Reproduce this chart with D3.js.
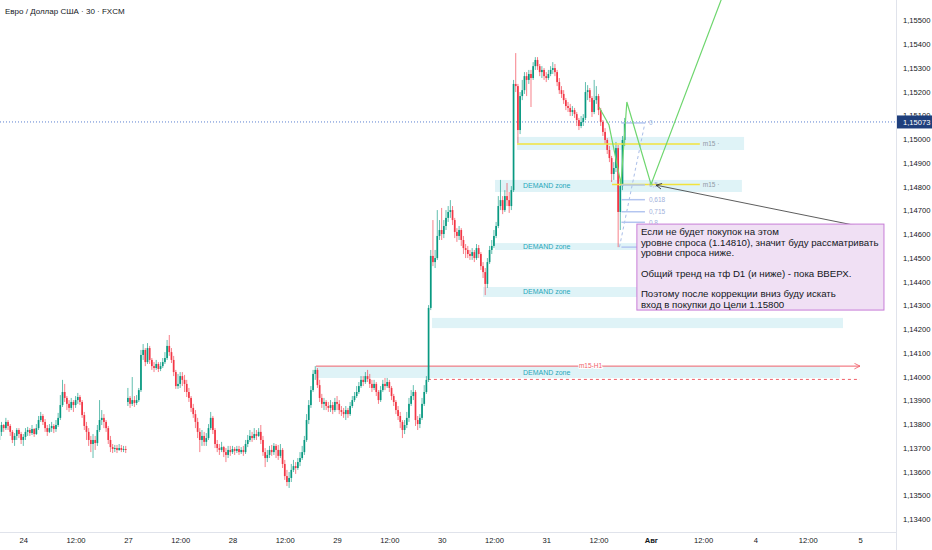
<!DOCTYPE html>
<html>
<head>
<meta charset="utf-8">
<script src="https://cdn.jsdelivr.net/npm/d3@7"></script>
<style>
    body { margin: 0; background: #fff; }
    svg { display: block; font-family: "Liberation Sans", Arial, sans-serif; }
</style>
</head>
<body>
<svg id="chart" width="932" height="550"></svg>
<script>
'use strict';

// EUR/USD 30 min candles, oldest first (bar 0 = left edge of the chart)
const opens = [
    1.13734,1.13768,1.13797,1.13784,1.13810,1.13793,1.13768,1.13734,1.13751,1.13776,
    1.13759,1.13734,1.13747,1.13768,1.13776,1.13763,1.13780,1.13759,1.13784,1.13818,
    1.13835,1.13810,1.13784,1.13768,1.13784,1.13793,1.13780,1.13797,1.13827,1.13881,
    1.13936,1.13911,1.13886,1.13869,1.13894,1.13881,1.13902,1.13915,1.13894,1.13839,
    1.13793,1.13768,1.13734,1.13717,1.13734,1.13721,1.13776,1.13818,1.13827,1.13810,
    1.13784,1.13734,1.13704,1.13696,1.13700,1.13692,1.13700,1.13692,1.13696,
    1.13894,1.13911,1.13886,1.13902,1.13890,1.13902,1.13944,1.14092,1.14113,1.14062,
    1.14121,1.14071,1.14045,1.14037,1.14054,1.14033,1.14045,1.14062,1.14079,1.14130,
    1.14104,1.14071,1.14020,1.13961,1.13970,1.14003,1.13987,1.13970,1.13936,1.13911,
    1.13869,1.13843,1.13810,1.13768,1.13734,1.13751,1.13726,1.13742,1.13784,1.13827,
    1.13776,1.13717,1.13700,1.13692,1.13704,1.13683,1.13671,1.13692,1.13683,1.13696,
    1.13688,1.13696,1.13683,
    1.13692,1.13683,1.13717,1.13734,1.13751,1.13742,1.13759,1.13751,1.13768,1.13734,
    1.13683,1.13658,1.13671,1.13692,1.13683,1.13709,1.13692,1.13667,1.13692,1.13633,
    1.13582,1.13557,1.13574,1.13608,1.13624,1.13616,1.13641,1.13658,1.13683,1.13734,
    1.13818,1.13881,1.13944,1.14012,1.14029,1.13965,1.13911,1.13886,1.13894,1.13877,
    1.13869,1.13881,1.13860,1.13894,1.13886,1.13860,1.13852,1.13843,1.13860,
    1.13843,1.13877,1.13902,1.13919,1.13936,1.13961,1.13987,1.13978,1.14003,1.13991,
    1.13970,1.13953,1.13970,1.13936,1.13902,1.13944,1.13970,1.13961,1.13978,1.13953,
    1.13919,1.13894,1.13860,1.13835,1.13810,1.13776,1.13797,1.13827,1.13886,1.13919,
    1.13936,1.13818,1.13801,1.13827,1.13886,1.13936,1.13987,1.14290,1.14509,1.14483,
    1.14500,1.14593,1.14618,1.14601,1.14635,
    1.14669,1.14694,1.14702,1.14660,1.14610,1.14593,1.14618,1.14576,1.14542,1.14534,
    1.14517,1.14509,1.14525,1.14500,1.14542,1.14517,1.14466,1.14441,1.14391,1.14483,
    1.14534,1.14551,1.14593,1.14635,1.14719,1.14744,1.14702,1.14761,1.14744,1.14719,
    1.14786,1.15233,1.15224,1.15039,1.15182,1.15207,1.15266,1.15250,1.15275,1.15258,
    1.15308,1.15334,1.15308,1.15283,1.15292,1.15266,
    1.15258,1.15275,1.15292,1.15300,1.15283,1.15241,1.15207,1.15191,1.15165,1.15140,
    1.15132,1.15115,1.15123,1.15106,1.15081,1.15056,1.15073,1.15090,1.15199,1.15207,
    1.15174,1.15115,1.15165,1.15182,1.15123,1.15073,1.15031,1.14997,1.14955,1.14921,
    1.14854,1.14879,1.14963,1.14694,1.14803,1.14997
];
const highs = [
    1.13784,1.13810,1.13801,1.13827,1.13818,1.13801,1.13776,1.13763,1.13784,1.13784,
    1.13768,1.13759,1.13784,1.13789,1.13784,1.13797,1.13784,1.13801,1.13835,1.13852,
    1.13843,1.13822,1.13797,1.13801,1.13810,1.13801,1.13818,1.13848,1.13923,1.13987,
    1.13970,1.13919,1.13902,1.13911,1.13902,1.13919,1.13932,1.13923,1.13902,1.13852,
    1.13810,1.13784,1.13751,1.13759,1.13751,1.13797,1.13902,1.13860,1.13843,1.13818,
    1.13793,1.13751,1.13717,1.13713,1.13713,1.13717,1.13713,1.13709,1.13709,
    1.13953,1.13919,1.13999,1.13919,1.13923,1.13953,1.14113,1.14138,1.14121,1.14142,
    1.14130,1.14079,1.14062,1.14071,1.14062,1.14062,1.14079,1.14104,1.14155,1.14176,
    1.14121,1.14088,1.14029,1.14012,1.14020,1.14020,1.14008,1.13987,1.13953,1.13919,
    1.13886,1.13860,1.13827,1.13784,1.13776,1.13768,1.13763,1.13801,1.13852,1.13835,
    1.13784,1.13734,1.13717,1.13726,1.13709,1.13700,1.13709,1.13709,1.13709,1.13704,
    1.13709,1.13709,1.13704,
    1.13709,1.13734,1.13755,1.13776,1.13768,1.13784,1.13776,1.13784,1.13797,1.13751,
    1.13700,1.13692,1.13709,1.13713,1.13721,1.13717,1.13713,1.13717,1.13700,1.13650,
    1.13608,1.13599,1.13633,1.13650,1.13641,1.13658,1.13683,1.13709,1.13751,1.13843,
    1.13902,1.13961,1.14029,1.14045,1.14037,1.13987,1.13928,1.13911,1.13902,1.13894,
    1.13902,1.13894,1.13911,1.13919,1.13902,1.13877,1.13869,1.13877,1.13869,
    1.13894,1.13919,1.13936,1.13961,1.13978,1.14003,1.14003,1.14020,1.14029,1.14012,
    1.13987,1.13987,1.13978,1.13944,1.13961,1.13987,1.13995,1.13995,1.13987,1.13961,
    1.13928,1.13902,1.13877,1.13852,1.13818,1.13818,1.13852,1.13911,1.13944,1.13965,
    1.13944,1.13835,1.13843,1.13911,1.13965,1.14003,1.14302,1.14534,1.14660,1.14534,
    1.14702,1.14660,1.14711,1.14660,1.14702,
    1.14719,1.14744,1.14719,1.14669,1.14626,1.14635,1.14626,1.14593,1.14559,1.14551,
    1.14534,1.14542,1.14534,1.14559,1.14555,1.14525,1.14483,1.14458,1.14500,1.14551,
    1.14576,1.14618,1.14652,1.14761,1.14829,1.14761,1.14786,1.14816,1.14778,1.14803,
    1.15250,1.15363,1.15233,1.15199,1.15250,1.15283,1.15283,1.15292,1.15292,1.15325,
    1.15346,1.15346,1.15317,1.15308,1.15300,1.15283,
    1.15292,1.15308,1.15325,1.15317,1.15292,1.15258,1.15224,1.15207,1.15174,1.15157,
    1.15149,1.15140,1.15132,1.15115,1.15090,1.15098,1.15106,1.15241,1.15228,1.15216,
    1.15182,1.15250,1.15224,1.15191,1.15132,1.15081,1.15047,1.15005,1.14972,1.14930,
    1.14904,1.14989,1.14976,1.14829,1.15014,1.15090
];
const lows = [
    1.13713,1.13751,1.13768,1.13776,1.13776,1.13751,1.13721,1.13709,1.13734,1.13742,
    1.13717,1.13709,1.13734,1.13751,1.13751,1.13755,1.13747,1.13755,1.13776,1.13810,
    1.13797,1.13768,1.13751,1.13763,1.13768,1.13763,1.13768,1.13789,1.13818,1.13873,
    1.13894,1.13860,1.13852,1.13860,1.13852,1.13869,1.13886,1.13881,1.13827,1.13776,
    1.13734,1.13709,1.13683,1.13658,1.13692,1.13709,1.13768,1.13797,1.13784,1.13768,
    1.13717,1.13683,1.13679,1.13683,1.13679,1.13688,1.13683,1.13683,1.13679,
    1.13877,1.13869,1.13877,1.13873,1.13881,1.13894,1.13936,1.14071,1.14045,1.14054,
    1.14054,1.14029,1.14020,1.14029,1.14020,1.14024,1.14037,1.14054,1.14071,1.14088,
    1.14058,1.14003,1.13949,1.13949,1.13953,1.13961,1.13936,1.13915,1.13894,1.13852,
    1.13827,1.13784,1.13742,1.13683,1.13709,1.13709,1.13709,1.13734,1.13776,1.13759,
    1.13700,1.13683,1.13671,1.13683,1.13662,1.13641,1.13658,1.13667,1.13675,1.13671,
    1.13679,1.13671,1.13675,
    1.13667,1.13675,1.13704,1.13726,1.13726,1.13734,1.13734,1.13747,1.13717,1.13667,
    1.13620,1.13641,1.13658,1.13667,1.13671,1.13658,1.13650,1.13658,1.13616,1.13566,
    1.13540,1.13532,1.13557,1.13599,1.13591,1.13608,1.13624,1.13650,1.13671,1.13726,
    1.13801,1.13869,1.13936,1.13987,1.13953,1.13894,1.13869,1.13860,1.13860,1.13852,
    1.13852,1.13843,1.13852,1.13860,1.13843,1.13835,1.13827,1.13818,1.13827,
    1.13835,1.13869,1.13894,1.13911,1.13928,1.13953,1.13961,1.13970,1.13978,1.13953,
    1.13936,1.13944,1.13919,1.13886,1.13894,1.13936,1.13944,1.13953,1.13936,1.13902,
    1.13877,1.13843,1.13818,1.13784,1.13742,1.13759,1.13784,1.13810,1.13877,1.13902,
    1.13793,1.13776,1.13784,1.13818,1.13877,1.13928,1.13978,1.14281,1.14466,1.14458,
    1.14492,1.14576,1.14576,1.14584,1.14618,
    1.14652,1.14669,1.14639,1.14584,1.14568,1.14576,1.14551,1.14517,1.14500,1.14500,
    1.14492,1.14492,1.14483,1.14492,1.14500,1.14450,1.14416,1.14344,1.14374,1.14475,
    1.14517,1.14542,1.14584,1.14626,1.14702,1.14685,1.14694,1.14719,1.14690,1.14702,
    1.14778,1.15199,1.14984,1.15022,1.15165,1.15191,1.15182,1.15233,1.15136,1.15250,
    1.15292,1.15292,1.15266,1.15258,1.15250,1.15241,
    1.15250,1.15266,1.15275,1.15266,1.15224,1.15191,1.15174,1.15149,1.15123,1.15115,
    1.15098,1.15098,1.15090,1.15056,1.15039,1.15047,1.15056,1.15081,1.15165,1.15157,
    1.15094,1.15106,1.15149,1.15102,1.15056,1.15014,1.14980,1.14938,1.14904,1.14820,
    1.14829,1.14862,1.14546,1.14618,1.14786,1.14972
];
const closes = [
    1.13768,1.13797,1.13784,1.13810,1.13793,1.13768,1.13734,1.13751,1.13776,1.13759,
    1.13734,1.13747,1.13768,1.13776,1.13763,1.13780,1.13759,1.13784,1.13818,1.13835,
    1.13810,1.13784,1.13768,1.13784,1.13793,1.13780,1.13797,1.13827,1.13881,1.13936,
    1.13911,1.13886,1.13869,1.13894,1.13881,1.13902,1.13915,1.13894,1.13839,1.13793,
    1.13768,1.13734,1.13717,1.13734,1.13721,1.13776,1.13818,1.13827,1.13810,1.13784,
    1.13734,1.13704,1.13696,1.13700,1.13692,1.13700,1.13692,1.13696,1.13692,
    1.13911,1.13886,1.13902,1.13890,1.13902,1.13944,1.14092,1.14113,1.14062,1.14121,
    1.14071,1.14045,1.14037,1.14054,1.14033,1.14045,1.14062,1.14079,1.14130,1.14104,
    1.14071,1.14020,1.13961,1.13970,1.14003,1.13987,1.13970,1.13936,1.13911,1.13869,
    1.13843,1.13810,1.13768,1.13734,1.13751,1.13726,1.13742,1.13784,1.13827,1.13776,
    1.13717,1.13700,1.13692,1.13704,1.13683,1.13671,1.13692,1.13683,1.13696,1.13688,
    1.13696,1.13683,1.13692,
    1.13683,1.13717,1.13734,1.13751,1.13742,1.13759,1.13751,1.13768,1.13734,1.13683,
    1.13658,1.13671,1.13692,1.13683,1.13709,1.13692,1.13667,1.13692,1.13633,1.13582,
    1.13557,1.13574,1.13608,1.13624,1.13616,1.13641,1.13658,1.13683,1.13734,1.13818,
    1.13881,1.13944,1.14012,1.14029,1.13965,1.13911,1.13886,1.13894,1.13877,1.13869,
    1.13881,1.13860,1.13894,1.13886,1.13860,1.13852,1.13843,1.13860,1.13843,
    1.13877,1.13902,1.13919,1.13936,1.13961,1.13987,1.13978,1.14003,1.13991,1.13970,
    1.13953,1.13970,1.13936,1.13902,1.13944,1.13970,1.13961,1.13978,1.13953,1.13919,
    1.13894,1.13860,1.13835,1.13810,1.13776,1.13797,1.13827,1.13886,1.13919,1.13936,
    1.13818,1.13801,1.13827,1.13886,1.13936,1.13987,1.14290,1.14509,1.14483,1.14500,
    1.14593,1.14618,1.14601,1.14635,1.14669,
    1.14694,1.14702,1.14660,1.14610,1.14593,1.14618,1.14576,1.14542,1.14534,1.14517,
    1.14509,1.14525,1.14500,1.14542,1.14517,1.14466,1.14441,1.14391,1.14483,1.14534,
    1.14551,1.14593,1.14635,1.14719,1.14744,1.14702,1.14761,1.14744,1.14719,1.14786,
    1.15233,1.15224,1.15039,1.15182,1.15207,1.15266,1.15250,1.15275,1.15258,1.15308,
    1.15334,1.15308,1.15283,1.15292,1.15266,1.15258,
    1.15275,1.15292,1.15300,1.15283,1.15241,1.15207,1.15191,1.15165,1.15140,1.15132,
    1.15115,1.15123,1.15106,1.15081,1.15056,1.15073,1.15090,1.15199,1.15207,1.15174,
    1.15115,1.15165,1.15182,1.15123,1.15073,1.15031,1.14997,1.14955,1.14921,1.14854,
    1.14879,1.14963,1.14694,1.14803,1.14997,1.15073
];

// time axis: bar index of each label, and the label
const timeTickBars = [11, 35, 59, 83, 107, 131, 155, 179, 203, 227, 251, 275, 299, 323, 347, 371, 395];
const timeTickLabels = ['24', '12:00', '27', '12:00', '28', '12:00', '29', '12:00', '30', '12:00', '31', '12:00', 'Авг', '12:00', '4', '12:00', '5'];
const priceTicks = [1.134, 1.135, 1.136, 1.137, 1.138, 1.139, 1.140, 1.141, 1.142, 1.143, 1.144,
                    1.145, 1.146, 1.147, 1.148, 1.149, 1.150, 1.151, 1.152, 1.153, 1.154, 1.155];
const lastPrice = 1.15073;

// drawn zones: [from bar, to bar, top price, bottom price, label]
const zones = [
    [237.6, 341.8, 1.15010, 1.14955, ''],
    [227.5, 340.8, 1.14829, 1.14778, 'DEMAND zone'],
    [227.5, 339.9, 1.14563, 1.14534, 'DEMAND zone'],
    [222.0, 294.0, 1.14378, 1.14336, 'DEMAND zone'],
    [198.6, 387.2, 1.14248, 1.14205, ''],
    [145.3, 385.8, 1.14045, 1.13995, 'DEMAND zone']
];
// yellow m15 levels: [from bar, to bar, price]
const m15Levels = [
    [237.6, 321.5, 1.14980],
    [281.2, 321.5, 1.14810]
];
// red m15-H1 level and the dashed one under it
const h1Level = [145.3, 395, 1.14045];
const h1Dashed = [196.7, 395, 1.13989];

// fibonacci retracement on the last leg
const fibHigh = 1.15069;
const fibLow = 1.14546;
const fibBars = [285.5, 296.3];
const fibLevels = [0, 0.5, 0.618, 0.715, 0.8, 1];
const fibTrend = [[284.6, 1.14546], [296.3, 1.15069]];

// projected path (green)
const projBars = [275.2, 279.8, 285.3, 288.0, 299.1, 340.1];
const projPrices = [1.15136, 1.15060, 1.14812, 1.15157, 1.14810, 1.15800];

// note and its arrow
const noteBox = [292.6, 406.0, 1.14643, 1.14281];
const noteArrow = [[394.1, 1.14635], [301.4, 1.14807]];
const noteLines = [
    'Если не будет покупок на этом',
    'уровне спроса (1.14810), значит буду рассматривать',
    'уровни спроса ниже.',
    '',
    'Общий тренд на тф D1 (и ниже) - пока ВВЕРХ.',
    '',
    'Поэтому после коррекции вниз буду искать',
    'вход в покупки до Цели 1.15800'
];


// layout
const plotW = 896, plotH = 532;
const svg = d3.select('#chart');

const x = d3.scaleLinear().domain([0, 395]).range([-0.67, 860]);
const y = d3.scaleLinear().domain([1.134, 1.155]).range([519.3, 20.55]);

const fmt = d => d.toFixed(5).replace('.', ',');

svg.append('rect').attr('width', 932).attr('height', 550).attr('fill', '#fff');

const defs = svg.append('defs');
defs.append('clipPath').attr('id', 'plot')
    .append('rect').attr('width', plotW).attr('height', plotH);

// arrow heads
function arrowMarker(id, color){
    defs.append('marker')
        .attr('id', id)
        .attr('viewBox', '0 0 10 10')
        .attr('refX', 9).attr('refY', 5)
        .attr('markerWidth', 7).attr('markerHeight', 7)
        .attr('markerUnits', 'userSpaceOnUse')
        .attr('orient', 'auto')
        .append('path')
        .attr('d', 'M1,1 L9,5 L1,9')
        .attr('fill', 'none')
        .attr('stroke', color)
        .attr('stroke-width', 1.2);
}
arrowMarker('redArrow', '#f0606a');
arrowMarker('darkArrow', '#333');

const g = svg.append('g').attr('clip-path', 'url(#plot)');

// zones behind everything
g.selectAll('rect.zone')
    .data(zones)
    .enter()
    .append('rect')
    .attr('class', 'zone')
    .attr('x', d => x(d[0]))
    .attr('width', d => x(d[1]) - x(d[0]))
    .attr('y', d => y(d[2]))
    .attr('height', d => y(d[3]) - y(d[2]))
    .attr('fill', '#dff3f7');

g.selectAll('text.zone')
    .data(zones.filter(d => d[4]))
    .enter()
    .append('text')
    .attr('class', 'zone')
    .attr('x', x(240.3))
    .attr('y', d => (y(d[2]) + y(d[3])) / 2)
    .attr('dy', '0.35em')
    .attr('font-size', 7)
    .attr('fill', '#27a7b9')
    .text(d => d[4]);

// red level
g.append('line')
    .attr('x1', x(h1Level[0])).attr('x2', x(h1Level[1]))
    .attr('y1', y(h1Level[2])).attr('y2', y(h1Level[2]))
    .attr('stroke', '#f0606a').attr('stroke-width', 1)
    .attr('marker-end', 'url(#redArrow)');
g.append('line')
    .attr('x1', x(h1Dashed[0])).attr('x2', x(h1Dashed[1]))
    .attr('y1', y(h1Dashed[2])).attr('y2', y(h1Dashed[2]))
    .attr('stroke', '#f0606a').attr('stroke-width', 1)
    .attr('stroke-dasharray', '3,3');
g.append('text')
    .attr('x', x(266)).attr('y', y(h1Level[2]))
    .attr('dy', '0.35em')
    .attr('font-size', 6.5)
    .attr('fill', '#f0606a')
    .attr('paint-order', 'stroke')
    .attr('stroke', '#fff').attr('stroke-width', 2)
    .text('m15-H1');

// current price line
g.append('line')
    .attr('x1', 0).attr('x2', plotW)
    .attr('y1', y(lastPrice)).attr('y2', y(lastPrice))
    .attr('stroke', '#5b7fd0').attr('stroke-width', 1)
    .attr('stroke-dasharray', '1,2');

// candles
const candles = closes.map((c, i) => ({ i, o: opens[i], h: highs[i], l: lows[i], c }));
const up = '#089981', down = '#f23645';

const cg = g.append('g');
cg.selectAll('line.wick')
    .data(candles)
    .enter()
    .append('line')
    .attr('class', 'wick')
    .attr('x1', d => x(d.i)).attr('x2', d => x(d.i))
    .attr('y1', d => y(Math.max(d.h, d.o, d.c)))
    .attr('y2', d => y(Math.min(d.l, d.o, d.c)))
    .attr('stroke', d => d.c >= d.o ? up : down)
    .attr('stroke-opacity', 0.7)
    .attr('stroke-width', 0.9);
cg.selectAll('rect.body')
    .data(candles)
    .enter()
    .append('rect')
    .attr('class', 'body')
    .attr('x', d => x(d.i) - 0.85)
    .attr('width', 1.7)
    .attr('y', d => y(Math.max(d.o, d.c)))
    .attr('height', d => Math.max(0.9, Math.abs(y(d.o) - y(d.c))))
    .attr('fill', d => d.c >= d.o ? up : down);

// yellow m15 levels
g.selectAll('line.m15')
    .data(m15Levels)
    .enter()
    .append('line')
    .attr('class', 'm15')
    .attr('x1', d => x(d[0])).attr('x2', d => x(d[1]))
    .attr('y1', d => y(d[2])).attr('y2', d => y(d[2]))
    .attr('stroke', '#f2e33c').attr('stroke-width', 1.5);
g.selectAll('text.m15')
    .data(m15Levels)
    .enter()
    .append('text')
    .attr('class', 'm15')
    .attr('x', d => x(d[1]) + 3)
    .attr('y', d => y(d[2]))
    .attr('dy', '0.35em')
    .attr('font-size', 6.5)
    .attr('fill', '#8f9aa6')
    .text('m15 ·');

// fibonacci
const fibPrice = l => fibHigh - l * (fibHigh - fibLow);
g.append('line')
    .attr('x1', x(fibTrend[0][0])).attr('y1', y(fibTrend[0][1]))
    .attr('x2', x(fibTrend[1][0])).attr('y2', y(fibTrend[1][1]))
    .attr('stroke', '#a9bde8').attr('stroke-width', 1)
    .attr('stroke-dasharray', '3,3');
g.selectAll('line.fib')
    .data(fibLevels)
    .enter()
    .append('line')
    .attr('class', 'fib')
    .attr('x1', x(fibBars[0])).attr('x2', x(fibBars[1]))
    .attr('y1', d => y(fibPrice(d))).attr('y2', d => y(fibPrice(d)))
    .attr('stroke', '#b3c5f0').attr('stroke-width', 1.5);
// the label of level 1 sits under the note, so it is left out
g.selectAll('text.fib')
    .data(fibLevels.filter(d => d < 1))
    .enter()
    .append('text')
    .attr('class', 'fib')
    .attr('x', x(fibBars[1]) + 4)
    .attr('y', d => y(fibPrice(d)))
    .attr('dy', '0.35em')
    .attr('font-size', 6.5)
    .attr('fill', '#9fb1dc')
    .text(d => String(d).replace('.', ','));

// projection
g.append('path')
    .datum(projBars.map((b, i) => [b, projPrices[i]]))
    .attr('d', d3.line().x(d => x(d[0])).y(d => y(d[1])))
    .attr('fill', 'none')
    .attr('stroke', '#6ed66e')
    .attr('stroke-width', 1.2);

// note arrow and box
g.append('line')
    .attr('x1', x(noteArrow[0][0])).attr('y1', y(noteArrow[0][1]))
    .attr('x2', x(noteArrow[1][0])).attr('y2', y(noteArrow[1][1]))
    .attr('stroke', '#333').attr('stroke-width', 0.8)
    .attr('marker-end', 'url(#darkArrow)');

const bx = x(noteBox[0]), by = y(noteBox[2]);
g.append('rect')
    .attr('x', bx).attr('y', by)
    .attr('width', x(noteBox[1]) - bx)
    .attr('height', y(noteBox[3]) - by)
    .attr('fill', '#f0e0f4')
    .attr('stroke', '#c77dd7')
    .attr('stroke-width', 1);
g.selectAll('text.note')
    .data(noteLines)
    .enter()
    .append('text')
    .attr('class', 'note')
    .attr('x', bx + 4)
    .attr('y', (d, i) => by + 8 + i * 10.3)
    .attr('dy', '0.35em')
    .attr('font-size', 9.7)
    .attr('fill', '#131722')
    .text(d => d);

// frame of the price and time scales
svg.append('line')
    .attr('x1', plotW + 0.5).attr('x2', plotW + 0.5)
    .attr('y1', 0).attr('y2', 550)
    .attr('stroke', '#e0e3eb');
svg.append('line')
    .attr('x1', 0).attr('x2', plotW)
    .attr('y1', plotH + 0.5).attr('y2', plotH + 0.5)
    .attr('stroke', '#e0e3eb');

// price axis
const yAxis = svg.append('g')
    .attr('transform', `translate(${plotW},0)`)
    .call(d3.axisRight(y).tickValues(priceTicks).tickSize(0).tickPadding(7).tickFormat(fmt));
yAxis.select('.domain').remove();
yAxis.selectAll('text')
    .attr('font-size', 7.6)
    .attr('font-family', '"Liberation Sans", Arial, sans-serif')
    .attr('fill', '#131722');

// last price label
svg.append('rect')
    .attr('x', plotW + 1).attr('y', y(lastPrice) - 6.5)
    .attr('width', 35).attr('height', 13)
    .attr('fill', '#1f3f7c');
svg.append('text')
    .attr('x', plotW + 7).attr('y', y(lastPrice))
    .attr('dy', '0.35em')
    .attr('font-size', 7.6)
    .attr('fill', '#fff')
    .text(fmt(lastPrice));

// time axis
const xAxis = svg.append('g')
    .attr('transform', `translate(0,${plotH})`)
    .call(d3.axisBottom(x).tickValues(timeTickBars).tickSize(0).tickPadding(6)
        .tickFormat((d, i) => timeTickLabels[i]));
xAxis.select('.domain').remove();
xAxis.selectAll('text')
    .attr('font-size', 7.6)
    .attr('font-family', '"Liberation Sans", Arial, sans-serif')
    .attr('fill', '#131722')
    .attr('font-weight', (d, i) => timeTickLabels[i] === 'Авг' ? 'bold' : null);

// title
svg.append('text')
    .attr('x', 5).attr('y', 11)
    .attr('dy', '0.35em')
    .attr('font-size', 8)
    .attr('fill', '#131722')
    .text('Евро / Доллар США · 30 · FXCM');
</script>
</body>
</html>
